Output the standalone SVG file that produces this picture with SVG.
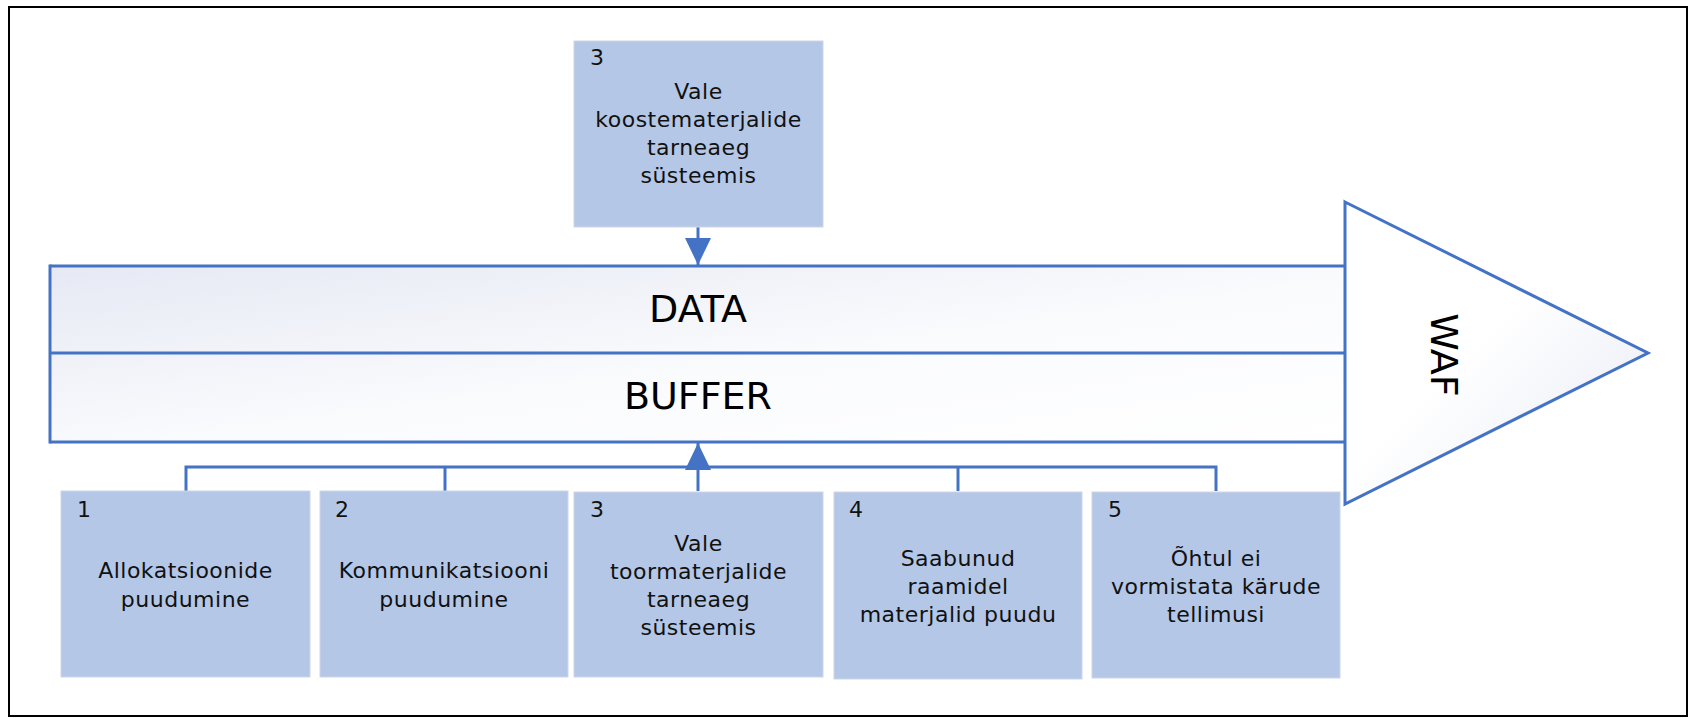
<svg xmlns="http://www.w3.org/2000/svg" width="1688" height="718" viewBox="0 0 1688 718">
<defs>
<linearGradient id="bandGrad" x1="0" y1="0" x2="1" y2="1" gradientUnits="objectBoundingBox">
<stop offset="0" stop-color="#E6E9F4"/>
<stop offset="0.55" stop-color="#FAFBFD"/>
<stop offset="1" stop-color="#FFFFFF"/>
</linearGradient>
<linearGradient id="triGrad" x1="0" y1="0" x2="1" y2="1" gradientUnits="objectBoundingBox">
<stop offset="0" stop-color="#FFFFFF"/>
<stop offset="0.45" stop-color="#FFFFFF"/>
<stop offset="1" stop-color="#E6E9F4"/>
</linearGradient>
<marker id="arr" viewBox="0 0 27 26" refX="27" refY="13" markerWidth="27" markerHeight="26" markerUnits="userSpaceOnUse" orient="auto">
<path d="M0,0 L27,13 L0,26 Z" fill="#4472C4"/>
</marker>
</defs>
<style>
.box{fill:#B4C7E7;stroke:#CDD6E6;stroke-width:1}
.band{stroke:#4472C4;stroke-width:3}
.conn{fill:none;stroke:#4472C4;stroke-width:3}
.t{font-family:"DejaVu Sans","Verdana",sans-serif;font-size:22px;fill:#111;letter-spacing:0.5px}
.c{text-anchor:middle}
.big{font-family:"DejaVu Sans","Verdana",sans-serif;font-size:38px;fill:#000;text-anchor:middle}
</style>
<rect x="9" y="7" width="1678" height="709" fill="#FFFFFF" stroke="#000" stroke-width="2"/>

<g id="band">
<rect x="50" y="266" width="1295" height="176" fill="url(#bandGrad)" stroke="none"/>
<line class="band" x1="50" y1="266" x2="1345" y2="266"/>
<line class="band" x1="50" y1="353" x2="1345" y2="353"/>
<line class="band" x1="50" y1="442" x2="1345" y2="442"/>
<line class="band" x1="50" y1="264.5" x2="50" y2="443.5"/>
<text class="big" x="698" y="322">DATA</text>
<text class="big" x="698" y="409">BUFFER</text>
</g>

<g id="waf">
<polygon points="1345,202 1648,353 1345,504" fill="url(#triGrad)" stroke="#4472C4" stroke-width="3" stroke-linejoin="miter"/>
<text class="big" transform="translate(1431,355) rotate(90)" x="0" y="0">WAF</text>
</g>

<g id="connectors">
<line class="conn" x1="698" y1="227" x2="698" y2="265" marker-end="url(#arr)"/>
<polyline class="conn" points="186,491 186,467 1216,467 1216,491"/>
<line class="conn" x1="445" y1="467" x2="445" y2="491"/>
<line class="conn" x1="958" y1="467" x2="958" y2="491"/>
<line class="conn" x1="698" y1="491" x2="698" y2="443" marker-end="url(#arr)"/>
</g>

<g id="top3">
<rect class="box" x="574" y="41" width="249" height="186"/>
<text class="t" x="590" y="65">3</text>
<text class="t c" x="698.5" y="99">Vale</text>
<text class="t c" x="698.5" y="127">koostematerjalide</text>
<text class="t c" x="698.5" y="155">tarneaeg</text>
<text class="t c" x="698.5" y="183">süsteemis</text>
</g>

<g id="n1">
<rect class="box" x="61" y="491" width="249" height="186"/>
<text class="t" x="77" y="517">1</text>
<text class="t c" x="185.5" y="578">Allokatsioonide</text>
<text class="t c" x="185.5" y="607">puudumine</text>
</g>

<g id="n2">
<rect class="box" x="320" y="491" width="248" height="186"/>
<text class="t" x="335" y="517">2</text>
<text class="t c" x="444" y="578">Kommunikatsiooni</text>
<text class="t c" x="444" y="607">puudumine</text>
</g>

<g id="n3">
<rect class="box" x="574" y="492" width="249" height="185"/>
<text class="t" x="590" y="517">3</text>
<text class="t c" x="698.5" y="551">Vale</text>
<text class="t c" x="698.5" y="579">toormaterjalide</text>
<text class="t c" x="698.5" y="607">tarneaeg</text>
<text class="t c" x="698.5" y="635">süsteemis</text>
</g>

<g id="n4">
<rect class="box" x="834" y="492" width="248" height="187"/>
<text class="t" x="849" y="517">4</text>
<text class="t c" x="958" y="566">Saabunud</text>
<text class="t c" x="958" y="594">raamidel</text>
<text class="t c" x="958" y="622">materjalid puudu</text>
</g>

<g id="n5">
<rect class="box" x="1092" y="492" width="248" height="186"/>
<text class="t" x="1108" y="517">5</text>
<text class="t c" x="1216" y="566">Õhtul ei</text>
<text class="t c" x="1216" y="594">vormistata kärude</text>
<text class="t c" x="1216" y="622">tellimusi</text>
</g>
</svg>
